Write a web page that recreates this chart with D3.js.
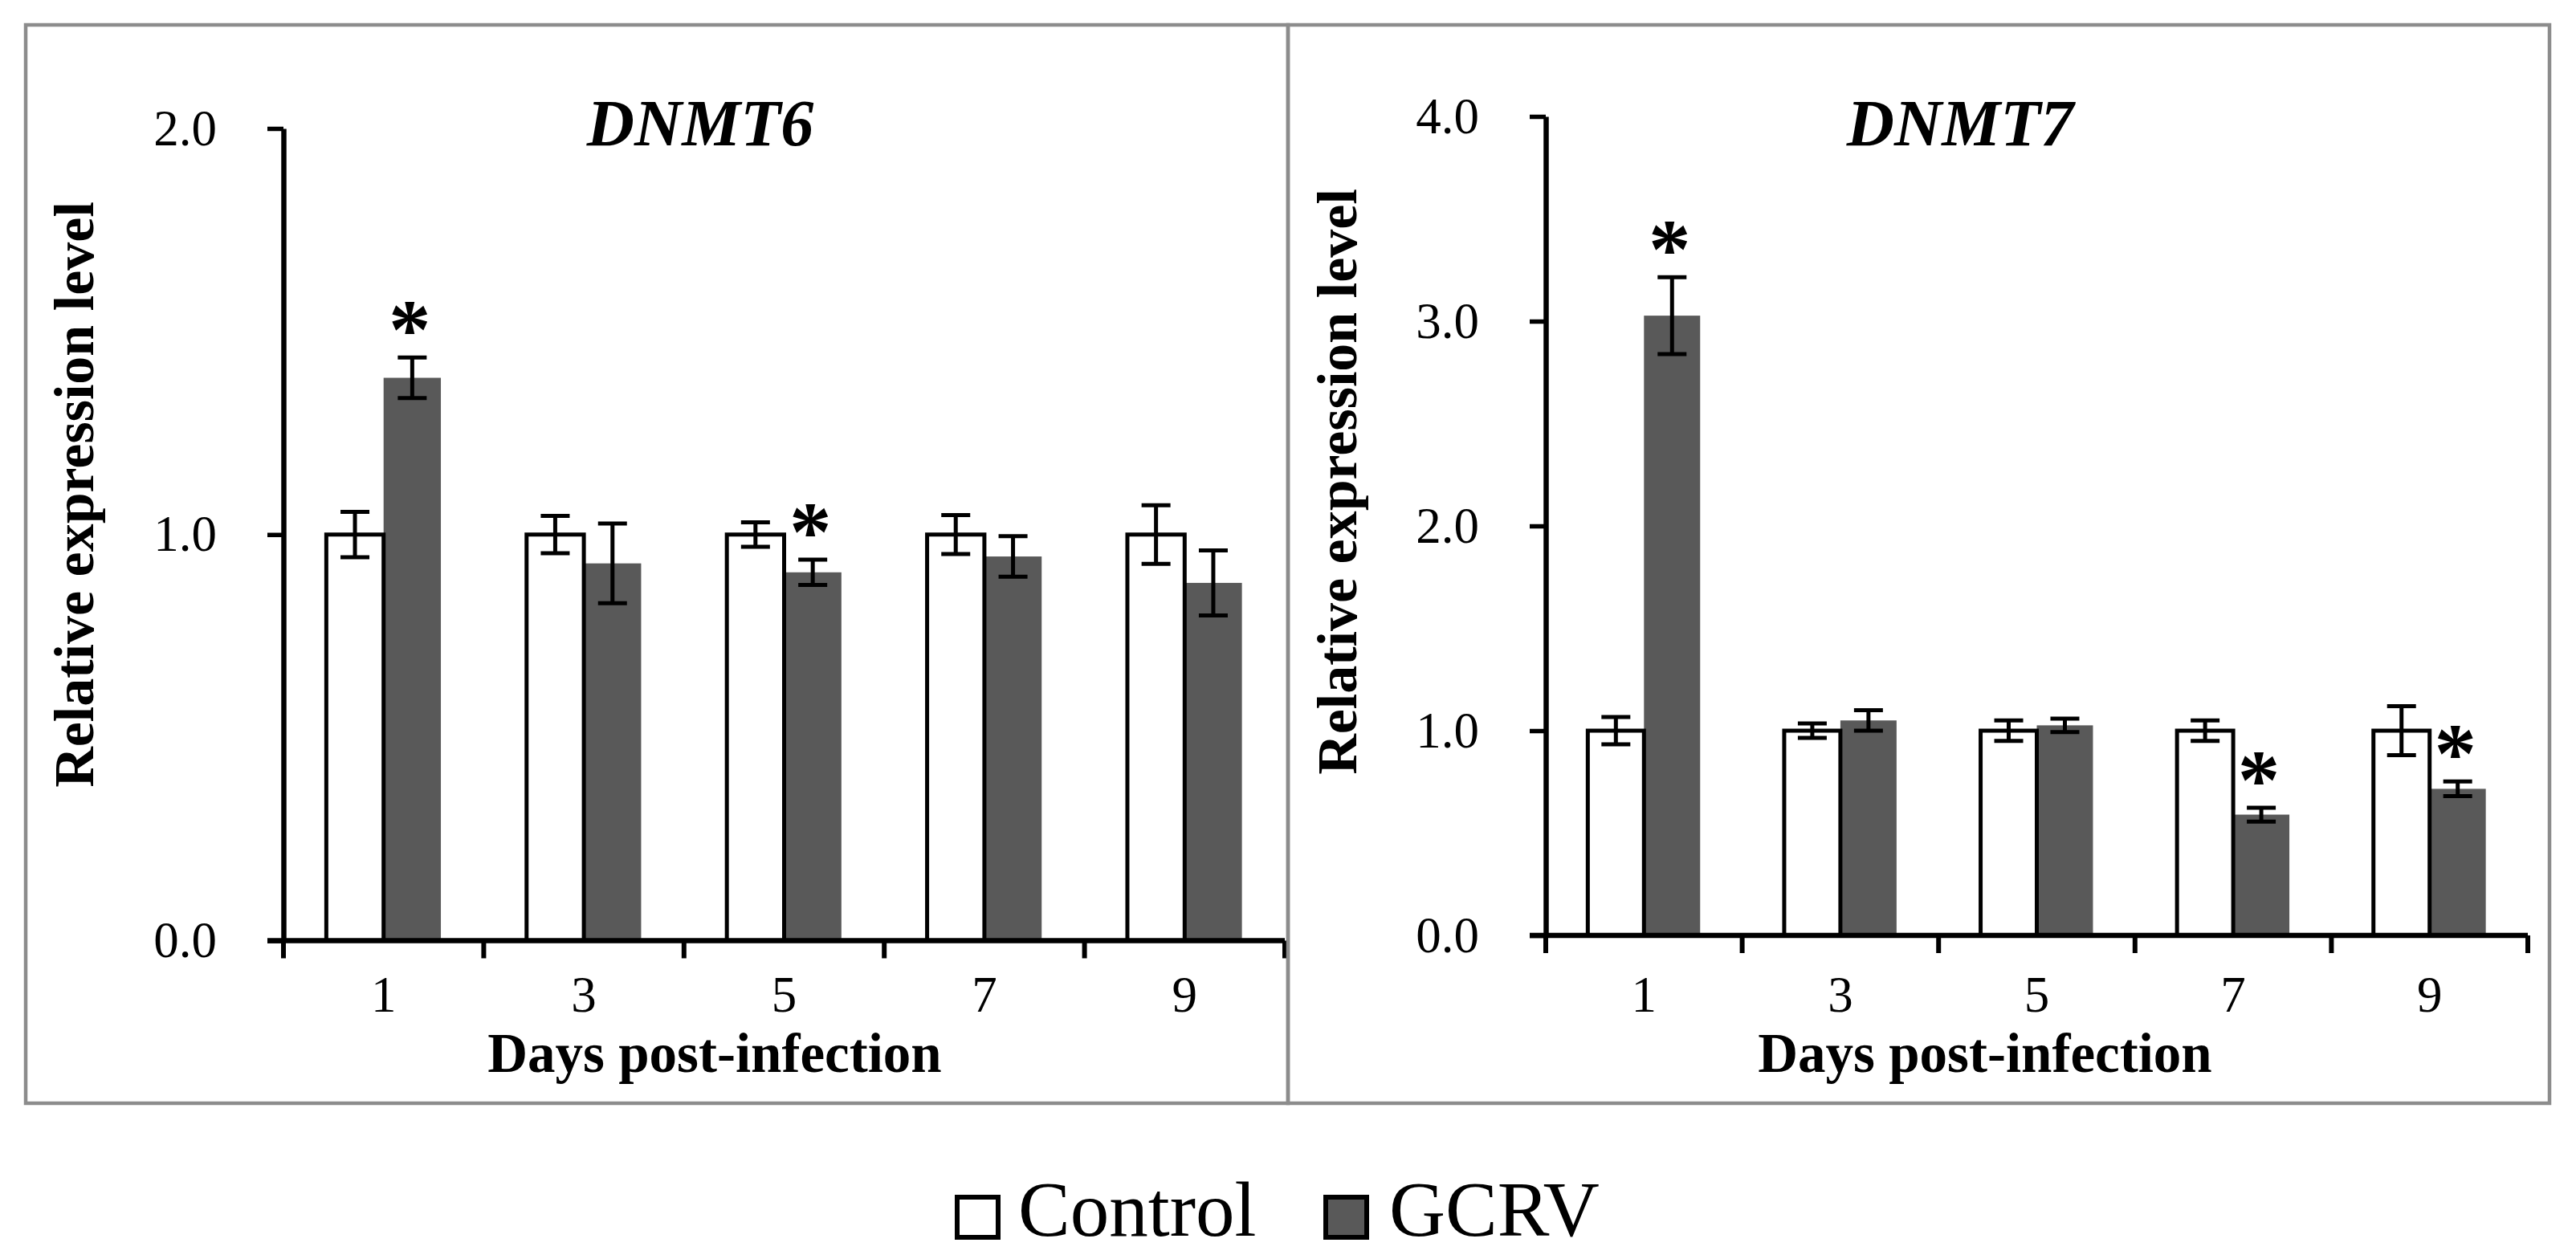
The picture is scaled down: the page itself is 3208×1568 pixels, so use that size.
<!DOCTYPE html>
<html>
<head>
<meta charset="utf-8">
<script src="https://cdn.jsdelivr.net/npm/d3@7"></script>
<style>
  body { margin: 0; background: #fff; }
  svg { display: block; }
</style>
</head>
<body>
<svg id="vis"></svg>
<script>
const WIDTH = 3208;
const HEIGHT = 1568;
const SERIF = "'Liberation Serif', 'Times New Roman', serif";
const CONTROL_COLOR = "#ffffff";
const GCRV_COLOR = "#595959";
const BORDER_COLOR = "#8c8c8c";

// data
const days = ["1", "3", "5", "7", "9"];
const series = ["Control", "GCRV"];

const dnmt6Control = [1.0, 1.0, 1.0, 1.0, 1.0];
const dnmt6ControlErr = [0.056, 0.046, 0.030, 0.048, 0.072];
const dnmt6Gcrv = [1.386, 0.929, 0.907, 0.946, 0.881];
const dnmt6GcrvErr = [0.050, 0.098, 0.031, 0.050, 0.080];
const dnmt6Sig = [true, false, true, false, false];
const dnmt6Ticks = [0.0, 1.0, 2.0];

const dnmt7Control = [1.0, 1.0, 1.0, 1.0, 1.0];
const dnmt7ControlErr = [0.067, 0.035, 0.050, 0.050, 0.120];
const dnmt7Gcrv = [3.027, 1.050, 1.026, 0.590, 0.716];
const dnmt7GcrvErr = [0.188, 0.050, 0.033, 0.034, 0.036];
const dnmt7Sig = [true, false, false, true, true];
const dnmt7Ticks = [0.0, 1.0, 2.0, 3.0, 4.0];

const svg = d3.select("#vis")
    .attr("width", WIDTH)
    .attr("height", HEIGHT)
    .style("font-family", SERIF);

svg.append("rect")
    .attr("width", WIDTH)
    .attr("height", HEIGHT)
    .attr("fill", "#fff");

const panels = [
    {
        title: "DNMT6", control: dnmt6Control, controlErr: dnmt6ControlErr,
        gcrv: dnmt6Gcrv, gcrvErr: dnmt6GcrvErr, sig: dnmt6Sig, ticks: dnmt6Ticks,
        box: [32, 31, 1604, 1374], axisX: 353, axisEnd: 1600, y0: 1171.5, yTop: 160,
        yLabelX: 116, yLabelY: 616, titleX: 872, xLabelX: 890
    },
    {
        title: "DNMT7", control: dnmt7Control, controlErr: dnmt7ControlErr,
        gcrv: dnmt7Gcrv, gcrvErr: dnmt7GcrvErr, sig: dnmt7Sig, ticks: dnmt7Ticks,
        box: [1604, 31, 3175, 1374], axisX: 1925, axisEnd: 3148, y0: 1165, yTop: 145,
        yLabelX: 1689, yLabelY: 600, titleX: 2441, xLabelX: 2472
    }
];

panels.forEach(drawPanel);
drawLegend();


function drawPanel(p) {
    const g = svg.append("g");

    g.append("rect")
        .attr("x", p.box[0])
        .attr("y", p.box[1])
        .attr("width", p.box[2] - p.box[0])
        .attr("height", p.box[3] - p.box[1])
        .attr("fill", "none")
        .attr("stroke", BORDER_COLOR)
        .attr("stroke-width", 4.5);

    const x = d3.scaleBand()
        .domain(days)
        .range([p.axisX, p.axisEnd]);
    const y = d3.scaleLinear()
        .domain([0, d3.max(p.ticks)])
        .range([p.y0, p.yTop]);

    const bw = x.bandwidth() * 0.286;
    const offset = (x.bandwidth() - 2 * bw) / 2;

    const rows = days.map((d, i) => ({
        day: d,
        control: p.control[i],
        controlErr: p.controlErr[i],
        gcrv: p.gcrv[i],
        gcrvErr: p.gcrvErr[i],
        sig: p.sig[i]
    }));

    // GCRV bars first so the control outline stays on top
    g.selectAll(".gcrv").data(rows).join("rect")
        .attr("class", "gcrv")
        .attr("x", d => x(d.day) + offset + bw)
        .attr("width", bw)
        .attr("y", d => y(d.gcrv))
        .attr("height", d => y(0) - y(d.gcrv))
        .attr("fill", GCRV_COLOR);

    g.selectAll(".control").data(rows).join("rect")
        .attr("class", "control")
        .attr("x", d => x(d.day) + offset)
        .attr("width", bw)
        .attr("y", d => y(d.control))
        .attr("height", d => y(0) - y(d.control))
        .attr("fill", CONTROL_COLOR)
        .attr("stroke", "#000")
        .attr("stroke-width", 5);

    // error bars
    const errs = [];
    rows.forEach(d => {
        errs.push({cx: x(d.day) + offset + bw / 2, v: d.control, e: d.controlErr});
        errs.push({cx: x(d.day) + offset + bw * 1.5, v: d.gcrv, e: d.gcrvErr});
    });
    const eg = g.append("g").attr("stroke", "#000").attr("stroke-width", 5);
    errs.forEach(d => {
        eg.append("line")
            .attr("x1", d.cx).attr("x2", d.cx)
            .attr("y1", y(d.v + d.e)).attr("y2", y(d.v - d.e));
        [d.v + d.e, d.v - d.e].forEach(v => {
            eg.append("line")
                .attr("x1", d.cx - 18).attr("x2", d.cx + 18)
                .attr("y1", y(v)).attr("y2", y(v));
        });
    });

    // significance stars
    g.selectAll(".star").data(rows.filter(d => d.sig)).join("text")
        .attr("class", "star")
        .attr("x", d => x(d.day) + offset + bw * 1.5 - 3)
        .attr("y", d => y(d.gcrv + d.gcrvErr) + 1)
        .attr("text-anchor", "middle")
        .attr("font-size", 105)
        .attr("font-weight", "bold")
        .text("*");

    // y axis
    const yAxis = g.append("g")
        .attr("transform", `translate(${p.axisX},0)`)
        .call(d3.axisLeft(y)
            .tickValues(p.ticks)
            .tickFormat(d3.format(".1f"))
            .tickSize(20)
            .tickSizeOuter(0)
            .tickPadding(63));
    yAxis.select(".domain").attr("stroke-width", 6.5);
    yAxis.selectAll(".tick line").attr("stroke-width", 5.5);
    yAxis.selectAll(".tick text")
        .attr("font-family", SERIF)
        .attr("font-size", 63)
        .attr("fill", "#000");

    // x axis: line, boundary ticks, centered labels
    g.append("line")
        .attr("x1", p.axisX - 20).attr("x2", p.axisEnd)
        .attr("y1", y(0)).attr("y2", y(0))
        .attr("stroke", "#000").attr("stroke-width", 6.5);
    const bounds = days.map(d => x(d)).concat([x.range()[1]]);
    g.selectAll(".xtick").data(bounds).join("line")
        .attr("class", "xtick")
        .attr("x1", d => d).attr("x2", d => d)
        .attr("y1", y(0)).attr("y2", y(0) + 22)
        .attr("stroke", "#000").attr("stroke-width", 6);
    g.selectAll(".xlabel").data(days).join("text")
        .attr("class", "xlabel")
        .attr("x", d => x(d) + x.bandwidth() / 2)
        .attr("y", 1260)
        .attr("text-anchor", "middle")
        .attr("font-size", 63)
        .text(d => d);

    // titles and axis labels
    g.append("text")
        .attr("x", p.titleX)
        .attr("y", 181)
        .attr("text-anchor", "middle")
        .attr("font-size", 82)
        .attr("font-weight", "bold")
        .attr("font-style", "italic")
        .text(p.title);

    g.append("text")
        .attr("x", p.xLabelX)
        .attr("y", 1335)
        .attr("text-anchor", "middle")
        .attr("font-size", 69)
        .attr("font-weight", "bold")
        .text("Days post-infection");

    g.append("text")
        .attr("transform", `translate(${p.yLabelX},${p.yLabelY}) rotate(-90)`)
        .attr("text-anchor", "middle")
        .attr("font-size", 70)
        .attr("font-weight", "bold")
        .text("Relative expression level");
}


function drawLegend() {
    const items = [
        {name: series[0], fill: CONTROL_COLOR, x: 1192, tx: 1268},
        {name: series[1], fill: GCRV_COLOR, x: 1651, tx: 1730}
    ];
    const lg = svg.append("g");
    items.forEach(d => {
        lg.append("rect")
            .attr("x", d.x)
            .attr("y", 1491)
            .attr("width", 51)
            .attr("height", 50)
            .attr("fill", d.fill)
            .attr("stroke", "#000")
            .attr("stroke-width", 6);
        lg.append("text")
            .attr("x", d.tx)
            .attr("y", 1539)
            .attr("font-size", 97)
            .text(d.name);
    });
}
</script>
</body>
</html>
